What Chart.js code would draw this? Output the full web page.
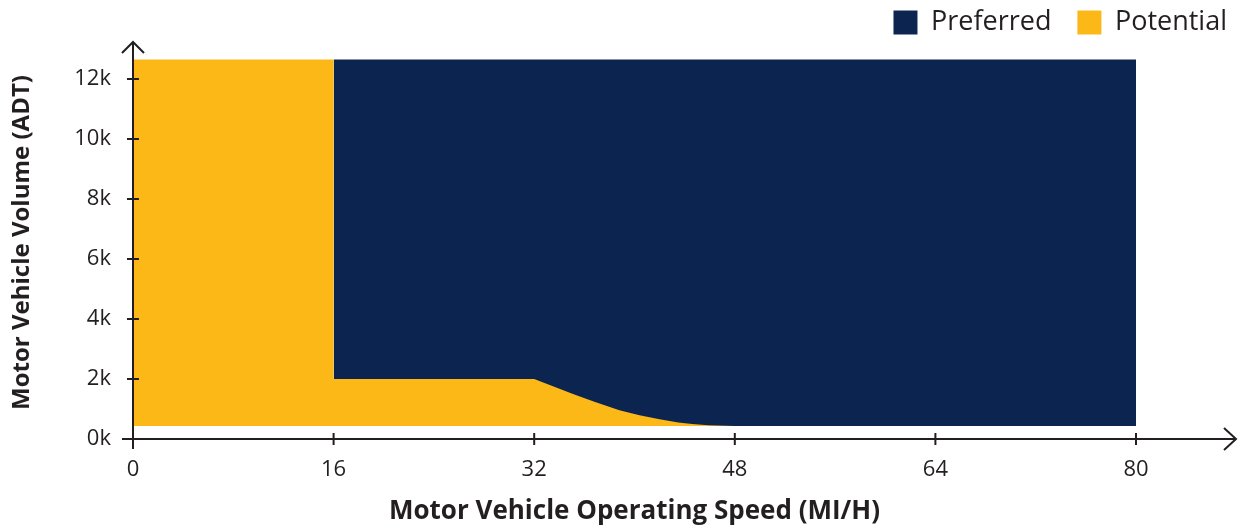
<!DOCTYPE html>
<html>
<head>
<meta charset="utf-8">
<script src="https://cdn.jsdelivr.net/npm/chart.js@4"></script>
<style>
  html, body { margin: 0; padding: 0; background: #fff; }
  #wrap { width: 1239px; height: 531px; }
</style>
</head>
<body>
<div id="wrap"><canvas id="myChart"></canvas></div>
<script>
"use strict";

/* data: speed in mi/h, volume in thousands ADT */
const baseVolume = 0.43;
const topVolume = 12.65;

const preferredSpeed = [16, 80];
const preferredVolume = [topVolume, topVolume];

const potentialSpeed = [0, 16, 16, 32, 33.6, 35.2, 36.8, 38.8, 40.4, 42.0, 43.5, 44.6, 45.9, 48];
const potentialVolume = [topVolume, topVolume, 2.0, 2.0, 1.74, 1.48, 1.24, 0.96, 0.79, 0.66, 0.55, 0.5, 0.46, baseVolume];

const xTicks = [0, 16, 32, 48, 64, 80];
const yTicks = [0, 2, 4, 6, 8, 10, 12];

const textColor = '#231f20';

/* axis lines with ticks that cross them, plus arrow heads */
const axisArrows = {
    id: 'axisArrows',
    afterDatasetsDraw(chart) {
        const { ctx, chartArea, scales } = chart;
        const x0 = scales.x.getPixelForValue(0);
        const y0 = scales.y.getPixelForValue(0);
        const xEnd = chartArea.right + 100;
        const yEnd = 42;
        ctx.save();
        ctx.strokeStyle = textColor;
        ctx.lineWidth = 2;
        ctx.beginPath();
        ctx.moveTo(x0 - 11, y0);
        ctx.lineTo(xEnd, y0);
        ctx.moveTo(x0, y0 + 10);
        ctx.lineTo(x0, yEnd);
        xTicks.forEach(v => {
            const px = scales.x.getPixelForValue(v);
            ctx.moveTo(px, y0 - 6);
            ctx.lineTo(px, y0 + 6);
        });
        yTicks.forEach(v => {
            const py = scales.y.getPixelForValue(v);
            ctx.moveTo(x0 - 6, py);
            ctx.lineTo(x0 + 6, py);
        });
        ctx.stroke();
        ctx.beginPath();
        ctx.moveTo(xEnd - 12, y0 - 11);
        ctx.lineTo(xEnd, y0);
        ctx.lineTo(xEnd - 12, y0 + 11);
        ctx.moveTo(x0 - 11, yEnd + 11);
        ctx.lineTo(x0, yEnd);
        ctx.lineTo(x0 + 11, yEnd + 11);
        ctx.stroke();
        ctx.restore();
    }
};

const ctx = document.getElementById('myChart');

new Chart(ctx, {
    type: 'line',
    data: {
        datasets: [{
            label: 'Preferred',
            data: preferredSpeed.map((s, i) => ({ x: s, y: preferredVolume[i] })),
            backgroundColor: '#0b2550',
            borderColor: '#0b2550',
            borderWidth: 0,
            pointRadius: 0,
            fill: { value: baseVolume },
            order: 2
        }, {
            label: 'Potential',
            data: potentialSpeed.map((s, i) => ({ x: s, y: potentialVolume[i] })),
            backgroundColor: '#fbb817',
            borderColor: '#fbb817',
            borderWidth: 0,
            pointRadius: 0,
            fill: { value: baseVolume },
            order: 1
        }]
    },
    options: {
        responsive: true,
        maintainAspectRatio: false,
        animation: false,
        layout: {
            padding: { top: -17, right: -14, left: 0, bottom: 0 }
        },
        plugins: {
            tooltip: { enabled: false },
            legend: {
                position: 'top',
                align: 'end',
                reverse: true,
                labels: {
                    boxWidth: 24,
                    boxHeight: 24,
                    padding: 26,
                    color: textColor,
                    font: { family: 'Open Sans', size: 27 }
                }
            }
        },
        scales: {
            x: {
                type: 'linear',
                min: 0,
                max: 80,
                afterBuildTicks: s => { s.ticks = xTicks.map(v => ({ value: v })); },
                afterFit: s => { s.height = 92; },
                border: { display: false },
                grid: { display: false, drawTicks: false },
                ticks: {
                    padding: 18,
                    maxRotation: 0,
                    autoSkip: false,
                    color: textColor,
                    font: { family: 'Open Sans', size: 22 }
                },
                title: {
                    display: true,
                    text: 'Motor Vehicle Operating Speed (MI/H)',
                    color: textColor,
                    padding: { top: 0, bottom: 4 },
                    font: { family: 'Open Sans', size: 26, weight: 'bold' }
                }
            },
            y: {
                type: 'linear',
                min: 0,
                max: 13.1,
                afterBuildTicks: s => { s.ticks = yTicks.map(v => ({ value: v })); },
                afterFit: s => { s.width = 133; },
                border: { display: false },
                grid: { display: false, drawTicks: false },
                ticks: {
                    padding: 22,
                    color: textColor,
                    callback: v => v + 'k',
                    font: { family: 'Open Sans', size: 22 }
                },
                title: {
                    display: true,
                    text: 'Motor Vehicle Volume (ADT)',
                    color: textColor,
                    padding: { top: 8, bottom: 0 },
                    font: { family: 'Open Sans', size: 24, weight: 'bold' }
                }
            },
            /* empty right-hand scale that keeps room for the x axis arrow */
            gap: {
                type: 'linear',
                position: 'right',
                display: true,
                afterFit: s => { s.width = 117; },
                border: { display: false },
                grid: { display: false, drawTicks: false },
                ticks: { display: false }
            }
        }
    },
    plugins: [axisArrows]
});
</script>
</body>
</html>
